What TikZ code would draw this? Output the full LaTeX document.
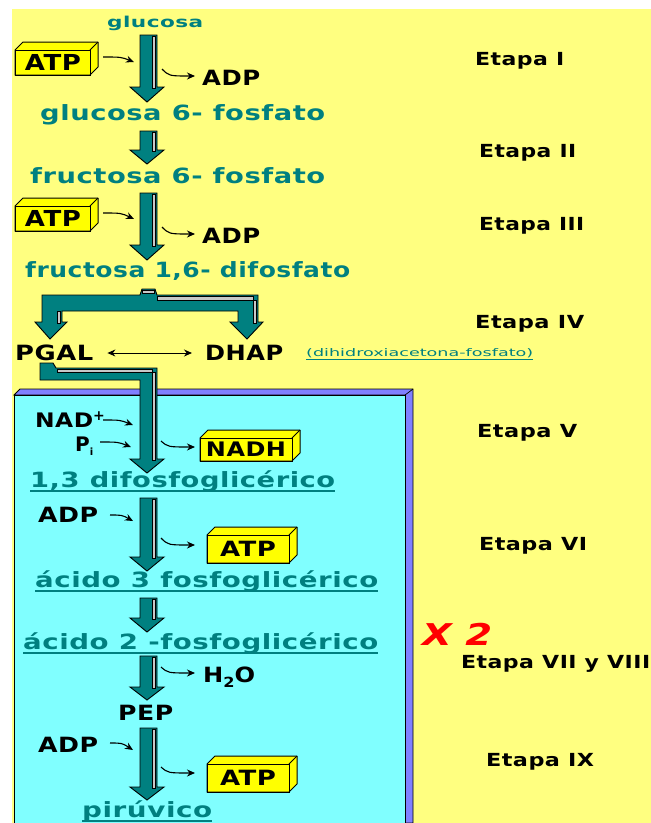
\documentclass[tikz,border=0pt]{standalone}
\usepackage{fontspec}
\usepackage{graphicx}
\usetikzlibrary{arrows.meta}
\newfontfamily\djs[LetterSpace=2]{DejaVu Sans}
\newfontfamily\djn{DejaVu Sans}
\definecolor{bgy}{RGB}{255,255,128}
\definecolor{cyanb}{RGB}{128,255,255}
\definecolor{purp}{RGB}{128,128,255}
\definecolor{tealc}{RGB}{0,128,128}
\definecolor{boxy}{RGB}{255,255,0}
\definecolor{grayc}{RGB}{200,200,200}
\definecolor{redx}{RGB}{255,0,0}
\newcommand\fw[2]{\resizebox{#1pt}{\height}{#2}}
\newcommand\bigarrow[3]{%
  \filldraw[fill=tealc,draw=black,line width=0.9pt,line join=miter]
    (140,#1) -- (157,#1) -- (157,#2) -- (164,#2) -- (147,#3) -- (130,#2) -- (140,#2) -- cycle;
  \filldraw[fill=grayc,draw=black,line width=0.5pt]
    (152,#1+1.5) -- (155.5,#1+1.5) -- (155.5,#2+1) -- (152,#2+1) -- cycle;}
\newcommand\tdbox[4]{%
  \filldraw[fill=boxy,draw=black,line width=1pt,line join=round]
    (#1,#2) -- (#1+8,#2-8) -- (#3+8,#2-8) -- (#3+8,#4-8) -- (#3,#4) -- (#1,#4) -- cycle;
  \draw[black,line width=1pt] (#1,#2) rectangle (#3,#4);
  \draw[black,line width=0.8pt] (#3,#2) -- (#3+8,#2-8);}
\begin{document}
\begin{tikzpicture}[x=1pt,y=-1pt,
  tt/.style={inner sep=0pt,anchor=base west,text=tealc,font=\djs\bfseries\fontsize{21}{24}\selectfont},
  bk/.style={inner sep=0pt,anchor=base west,text=black,font=\djs\bfseries\fontsize{21}{24}\selectfont},
  et/.style={inner sep=0pt,anchor=base west,text=black,font=\djs\bfseries\fontsize{18}{20}\selectfont},
  bxt/.style={inner sep=0pt,anchor=center,text=black,font=\djs\bfseries\fontsize{21}{24}\selectfont},
  sarr/.style={line width=1.1pt,-{Stealth[length=8pt,width=7pt]}},
  uline/.style={tealc,line width=1.5pt}]
\useasboundingbox (0,0) rectangle (651,823);
\fill[white] (0,0) rectangle (651,823);
\fill[bgy] (12,9) rectangle (651,823);
% cyan box with purple bevel
\filldraw[fill=purp,draw=black,line width=0.9pt] (14,395) -- (20,389) -- (413,389) -- (413,823) -- (405,823) -- (405,395) -- cycle;
\filldraw[fill=cyanb,draw=black,line width=0.9pt] (14,395) rectangle (405,823);
\draw[black,line width=0.7pt] (405,395) -- (413,389);
% main arrows
\bigarrow{35}{87}{102}
\bigarrow{131}{150}{164}
\bigarrow{193}{245}{260}
\bigarrow{498}{557}{571}
\bigarrow{598}{618}{632}
\bigarrow{656}{687}{700}
\bigarrow{728}{787}{800}
% fork
\filldraw[fill=tealc,draw=black,line width=0.9pt,line join=miter]
  (42,295) -- (140,295) -- (142,289) -- (155,289) -- (157,295) -- (258,295) -- (258,322) -- (263,322)
  -- (247,339) -- (230,322) -- (238,322) -- (238,311) -- (62,311) -- (62,322) -- (67,322) -- (50,339)
  -- (35,322) -- (42,322) -- cycle;
\filldraw[fill=grayc,draw=black,line width=0.5pt] (253,300) -- (256.5,300) -- (256.5,323) -- (253,323) -- cycle;
\filldraw[fill=grayc,draw=black,line width=0.5pt] (157,296.5) -- (253,296.5) -- (253,300) -- (157,300) -- cycle;
\filldraw[fill=grayc,draw=black,line width=0.5pt] (57,311) -- (60.5,311) -- (60.5,323) -- (57,323) -- cycle;
\filldraw[fill=grayc,draw=black,line width=0.5pt] (142,290.5) -- (154,290.5) -- (154,293) -- (142,293) -- cycle;
% PGAL band into arrow 4
\filldraw[fill=tealc,draw=black,line width=0.9pt,line join=miter]
  (40,363) -- (53,363) -- (56,368) -- (157,368) -- (157,459) -- (164,459) -- (147,473) -- (130,459)
  -- (140,459) -- (140,380) -- (40,380) -- cycle;
\filldraw[fill=grayc,draw=black,line width=0.5pt] (152,372) -- (155.5,372) -- (155.5,460) -- (152,460) -- cycle;
\filldraw[fill=grayc,draw=black,line width=0.5pt] (57,369.5) -- (152,369.5) -- (152,372) -- (57,372) -- cycle;
% 3D boxes
\tdbox{15}{50}{90}{75}
\tdbox{15}{206}{90}{231}
\tdbox{200}{438}{292}{461}
\tdbox{207}{535}{289}{563}
\tdbox{207}{764}{289}{792}
\node[bxt,font=\djs\bfseries\fontsize{22}{24}\selectfont] (atp1) at (53,62.5) {\fw{56}{ATP}};
\node[bxt,font=\djs\bfseries\fontsize{22}{24}\selectfont] (atp2) at (53,218.5) {\fw{56}{ATP}};
\node[bxt,font=\djs\bfseries\fontsize{20}{24}\selectfont] (nadh) at (246,449.5) {\fw{80}{NADH}};
\node[bxt] (atp3) at (248,549) {\fw{56}{ATP}};
\node[bxt] (atp4) at (248,778) {\fw{56}{ATP}};
% texts
\node[tt,font=\djs\bfseries\fontsize{15}{16}\selectfont] (glu) at (107,27) {\fw{96}{glucosa}};
\node[tt] (g6p) at (40,120) {\fw{285}{glucosa 6- fosfato}};
\node[tt] (f6p) at (30,183) {\fw{295}{fructosa 6- fosfato}};
\node[tt] (f16) at (25,277) {\fw{325}{fructosa 1,6- difosfato}};
\node[bk] (adp1) at (202,85) {\fw{58}{ADP}};
\node[bk] (adp2) at (202,243) {\fw{58}{ADP}};
\node[bk] (pgal) at (15,360) {\fw{78}{PGAL}};
\node[bk] (dhap) at (205,360) {\fw{78}{DHAP}};
\node[tt,font=\djn\fontsize{10.5}{12}\selectfont] (dhx) at (306,356) {\fw{227}{(dihidroxiacetona-fosfato)}};
\draw[tealc,line width=0.8pt] ([yshift=-3.5pt]dhx.base west) -- ([yshift=-3.5pt]dhx.base east);
\node[bk,font=\djs\bfseries\fontsize{20}{22}\selectfont] (nad) at (35,427) {\fw{58}{NAD}\raisebox{7pt}{\fontsize{14}{14}\selectfont +}};
\node[bk,font=\djs\bfseries\fontsize{20}{22}\selectfont] (pi) at (75,451) {P\raisebox{-4pt}{\fontsize{10}{10}\selectfont i}};
\node[tt] (dpg) at (30,487) {\fw{305}{1,3 difosfoglicérico}};
\draw[uline] ([yshift=-4pt]dpg.base west) -- ([yshift=-4pt]dpg.base east);
\node[bk] (adp3) at (38,522) {\fw{60}{ADP}};
\node[tt] (a3p) at (35,587) {\fw{343}{ácido 3 fosfoglicérico}};
\draw[uline] ([yshift=-4pt]a3p.base west) -- ([yshift=-4pt]a3p.base east);
\node[tt] (a2p) at (23,649) {\fw{355}{ácido 2 -fosfoglicérico}};
\draw[uline] ([yshift=-4pt]a2p.base west) -- ([yshift=-4pt]a2p.base east);
\node[bk] (h2o) at (203,682) {\fw{52}{H\raisebox{-5pt}{\fontsize{14}{14}\selectfont 2}O}};
\node[bk] (pep) at (118,720) {\fw{55}{PEP}};
\node[bk] (adp4) at (38,752) {\fw{60}{ADP}};
\node[tt] (pir) at (82,817) {\fw{130}{pirúvico}};
\draw[uline] ([yshift=-4pt]pir.base west) -- ([yshift=-4pt]pir.base east);
% PGAL <-> DHAP
\draw[line width=1pt,{Stealth[length=8pt,width=7pt]}-{Stealth[length=8pt,width=7pt]}]
  ([xshift=14pt,yshift=7pt]pgal.base east) -- ([xshift=-13pt,yshift=7pt]dhap.base west);
% stage labels
\node[et] (e1) at (475,65) {\fw{89}{Etapa I}};
\node[et] (e2) at (479,157) {\fw{97}{Etapa II}};
\node[et] (e3) at (479,230) {\fw{105}{Etapa III}};
\node[et] (e4) at (475,328) {\fw{109}{Etapa IV}};
\node[et] (e5) at (477,437) {\fw{100}{Etapa V}};
\node[et] (e6) at (479,550) {\fw{108}{Etapa VI}};
\node[et] (e78) at (461,668) {\fw{189}{Etapa VII y VIII}};
\node[et] (e9) at (486,766) {\fw{108}{Etapa IX}};
\node[inner sep=0pt,anchor=base west,text=redx,font=\djn\bfseries\itshape\fontsize{30}{32}\selectfont] (x2) at (422,645) {\fw{70}{X 2}};
% small input arrows
\coordinate (i1s) at (103,57); \coordinate (i1e) at (134,62);
\coordinate (i2s) at (103,213); \coordinate (i2e) at (134,219);
\coordinate (i3s) at (103,420); \coordinate (i3e) at (133,425);
\coordinate (i4s) at (100,442); \coordinate (i4e) at (131,447);
\coordinate (i5s) at (110,515); \coordinate (i5e) at (133,521);
\coordinate (i6s) at (110,743); \coordinate (i6e) at (133,750);
\draw[sarr] (i1s) .. controls (121,57) .. (i1e);
\draw[sarr] (i2s) .. controls (121,213) .. (i2e);
\draw[sarr] (i3s) .. controls (120,420) .. (i3e);
\draw[sarr] (i4s) .. controls (118,442) .. (i4e);
\draw[sarr] (i5s) .. controls (122,515) .. (i5e);
\draw[sarr] (i6s) .. controls (122,743) .. (i6e);
% small output arrows
\coordinate (o1s) at (162,69); \coordinate (o1e) at (195,76);
\coordinate (o2s) at (162,227); \coordinate (o2e) at (195,234);
\coordinate (o3s) at (161,441); \coordinate (o3e) at (195,447);
\coordinate (o4s) at (161,538); \coordinate (o4e) at (195,545);
\coordinate (o5s) at (161,667); \coordinate (o5e) at (195,673);
\coordinate (o6s) at (161,767); \coordinate (o6e) at (195,773);
\draw[sarr] (o1s) .. controls (169,76) .. (o1e);
\draw[sarr] (o2s) .. controls (169,234) .. (o2e);
\draw[sarr] (o3s) .. controls (168,447) .. (o3e);
\draw[sarr] (o4s) .. controls (168,545) .. (o4e);
\draw[sarr] (o5s) .. controls (168,673) .. (o5e);
\draw[sarr] (o6s) .. controls (168,773) .. (o6e);
\end{tikzpicture}
\end{document}
